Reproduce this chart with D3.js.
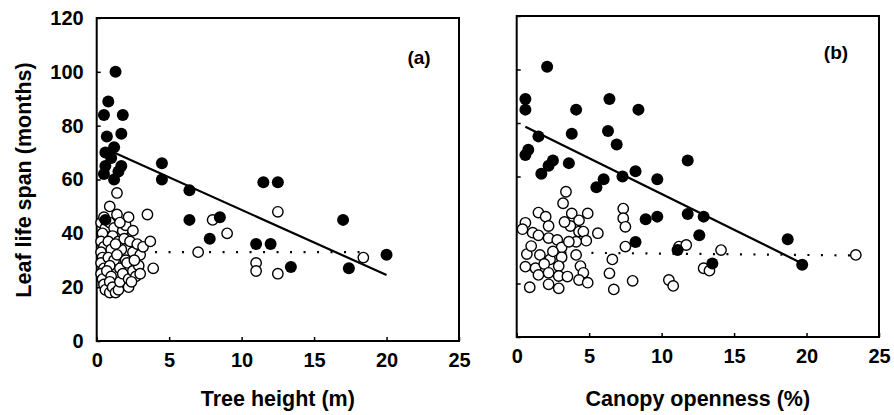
<!DOCTYPE html>
<html><head><meta charset="utf-8">
<script src="https://cdn.jsdelivr.net/npm/d3@7/dist/d3.min.js"></script>
<style>
html,body{margin:0;padding:0;background:#fff;}
svg text{font-family:"Liberation Sans",Arial,Helvetica,sans-serif;font-weight:bold;fill:#000;}
</style></head>
<body>
<svg id="c" width="894" height="415"></svg>
<script>
// ---------- data ----------
const xTicks = [0,5,10,15,20,25];
const yTicks = [0,20,40,60,80,100,120];
const yTitle = "Leaf life span (months)";
const xTitleA = "Tree height (m)";
const xTitleB = "Canopy openness (%)";

// panel (a): tree height (m) vs leaf life span (months)
const filledA = [[1.3,100],[0.8,89],[0.5,84],[1.8,84],[0.7,76],[1.7,77],[0.6,70],[1.2,72],[1.0,68],[0.6,65],[1.7,65],
  [0.5,62],[1.2,60],[1.5,63],[4.5,66],[4.5,60],[6.4,56],[0.6,45],[6.4,45],[8.5,46],[7.8,38],[11.5,59],[12.5,59],
  [17.0,45],[11.0,36],[12.0,36],[13.4,27.5],[17.4,27],[20.0,32]];
const openA = [[0.3,44],[0.5,46],[0.6,42],[0.4,40],[0.3,37],[0.5,35],[0.3,33],[0.4,31],[0.3,29],[0.5,27],[0.3,25],
  [0.4,23],[0.5,21],[0.6,19],[0.9,50],[1.4,55],[1.4,47],[0.9,44],[1.2,42],[1.1,39],[0.8,37],[1.0,34],[0.8,31],[1.2,30],
  [0.9,28],[0.7,26],[1.0,24],[0.9,22],[0.9,18],[1.1,20],[1.3,18],[1.5,19],[1.6,22],[1.6,27],[1.7,34],[1.8,41],[1.5,37],
  [1.4,32],[1.9,38],[2.0,30],[2.1,29],[1.8,25],[2.2,23],[2.2,20],[2.0,43],[2.3,37],[2.5,41],[2.5,26],[2.5,33],[2.8,36],
  [2.9,28],[3.0,32],[2.7,24],[2.4,22],[2.6,30],[3.2,35],[3.0,25],[2.2,46],[1.6,44],[1.3,36],[3.5,47],[3.7,37],[3.9,27],
  [7.0,33],[8.0,45],[9.0,40],[11.0,29],[11.0,26],[12.5,48],[12.5,25],[18.4,31]];
const fitA = [[0.5,71.7],[20,24.5]];
const meanA = [[0.3,33],[18.4,33]];

// panel (b): canopy openness (%) vs leaf life span (months)
const filledB = [[2.1,101],[0.6,89],[0.6,85],[4.1,85],[6.4,89],[8.4,85],[3.8,76],[6.3,77],[6.9,72],[1.5,75],[0.8,70],
  [0.6,68],[2.5,66],[2.2,64],[3.6,65],[1.7,61],[6.0,59],[5.5,56],[7.3,60],[8.2,62],[9.7,59],[11.8,66],[11.8,46],
  [12.9,45],[8.9,44],[9.7,45],[12.6,38],[8.2,35.5],[11.1,32.5],[13.5,27.5],[18.7,36.5],[19.7,27]];
const openB = [[3.4,54.3],[3.2,50],[1.5,46.5],[2.0,45],[0.6,42.7],[0.4,40.3],[1.1,39],[2.2,41.5],[1.5,38],[2.2,37],
  [2.8,36.3],[3.1,33.5],[3.8,46.2],[4.3,43.6],[4.9,46.2],[3.7,41.5],[4.3,39.4],[4.6,39.4],[5.6,38.8],[4.8,36],[4.1,35.6],
  [3.6,35.6],[0.7,31],[1.6,30.7],[2.3,29],[3.1,29.8],[4.1,30.7],[0.6,26.3],[1.3,25.7],[1.9,27.3],[2.9,26.5],[4.4,26.5],
  [1.5,23.2],[2.2,24],[2.9,22.8],[3.5,22.6],[4.6,24],[4.3,21.3],[4.9,20.3],[0.9,18.6],[2.2,19.7],[2.9,18.2],[6.6,29],
  [6.4,23.8],[6.7,17.8],[7.35,48],[7.35,44.4],[7.5,41.2],[7.5,33.8],[8.0,21],[11.2,33.8],[11.7,34.4],[14.1,32.5],
  [12.9,25.7],[13.3,24.8],[10.5,21.3],[10.8,19.1],[23.4,30.7],[2.5,32],[1.0,34],[3.3,43]];
const fitB = [[0.6,78.6],[19.7,27.5]];
const meanB = [[0.5,31.7],[23,30.5]];

// ---------- drawing ----------
const svg = d3.select("#c");

function panel(o){
  const x = d3.scaleLinear().domain([0,25]).range([o.left,o.right]);
  const y = d3.scaleLinear().domain([0,120]).range([o.bottom,o.top]);
  const g = svg.append("g");

  // x axis
  const xa = g.append("g").attr("transform",`translate(0,${o.bottom})`)
    .call(d3.axisBottom(x).tickValues(xTicks).tickSizeInner(-4).tickSizeOuter(0).tickPadding(12));
  xa.select(".domain").remove();
  xa.selectAll("line").attr("stroke","#000").attr("stroke-width",1.5);
  xa.selectAll("text").attr("font-size",20).attr("font-family",null);

  // y axis
  const ya = g.append("g").attr("transform",`translate(${o.left},0)`)
    .call(d3.axisLeft(y).tickValues(yTicks).tickSizeInner(-4).tickSizeOuter(0).tickPadding(13));
  ya.select(".domain").remove();
  ya.selectAll("line").attr("stroke","#000").attr("stroke-width",1.5);
  ya.selectAll("text").attr("font-size",20).attr("font-family",null);
  if(!o.yLabels) ya.selectAll("text").remove();

  // frame
  g.append("rect").attr("x",o.left).attr("y",o.top)
    .attr("width",o.right-o.left).attr("height",o.bottom-o.top)
    .attr("fill","none").attr("stroke","#000").attr("stroke-width",2);

  const line = d3.line().x(d=>x(d[0])).y(d=>y(d[1]));
  g.append("path").attr("d",line(o.mean)).attr("fill","none").attr("stroke","#000")
    .attr("stroke-width",2.2).attr("stroke-dasharray","2 11.5");
  g.append("path").attr("d",line(o.fit)).attr("fill","none").attr("stroke","#000").attr("stroke-width",2.2);

  g.append("g").selectAll("circle").data(o.open).join("circle")
    .attr("cx",d=>x(d[0])).attr("cy",d=>y(d[1])).attr("r",5.2)
    .attr("fill","#fff").attr("stroke","#000").attr("stroke-width",1.4);
  g.append("g").selectAll("circle").data(o.filled).join("circle")
    .attr("cx",d=>x(d[0])).attr("cy",d=>y(d[1])).attr("r",6)
    .attr("fill","#000");

  g.append("text").attr("x",(o.left+o.right)/2).attr("y",406)
    .attr("text-anchor","middle").attr("font-size",21.5).text(o.xTitle);
  g.append("text").attr("x",o.tagX).attr("y",o.tagY).attr("text-anchor","middle")
    .attr("font-size",19).text(o.tag);
}

panel({left:96.7,right:459,top:18,bottom:341,filled:filledA,open:openA,fit:fitA,mean:meanA,
  xTitle:xTitleA,yLabels:true,tag:"(a)",tagX:419,tagY:64});
panel({left:516.7,right:879,top:16,bottom:337,filled:filledB,open:openB,fit:fitB,mean:meanB,
  xTitle:xTitleB,yLabels:false,tag:"(b)",tagX:836,tagY:59});

svg.append("text").attr("transform","translate(31,180) rotate(-90)")
  .attr("text-anchor","middle").attr("font-size",21.5).text(yTitle);
</script>
</body></html>
